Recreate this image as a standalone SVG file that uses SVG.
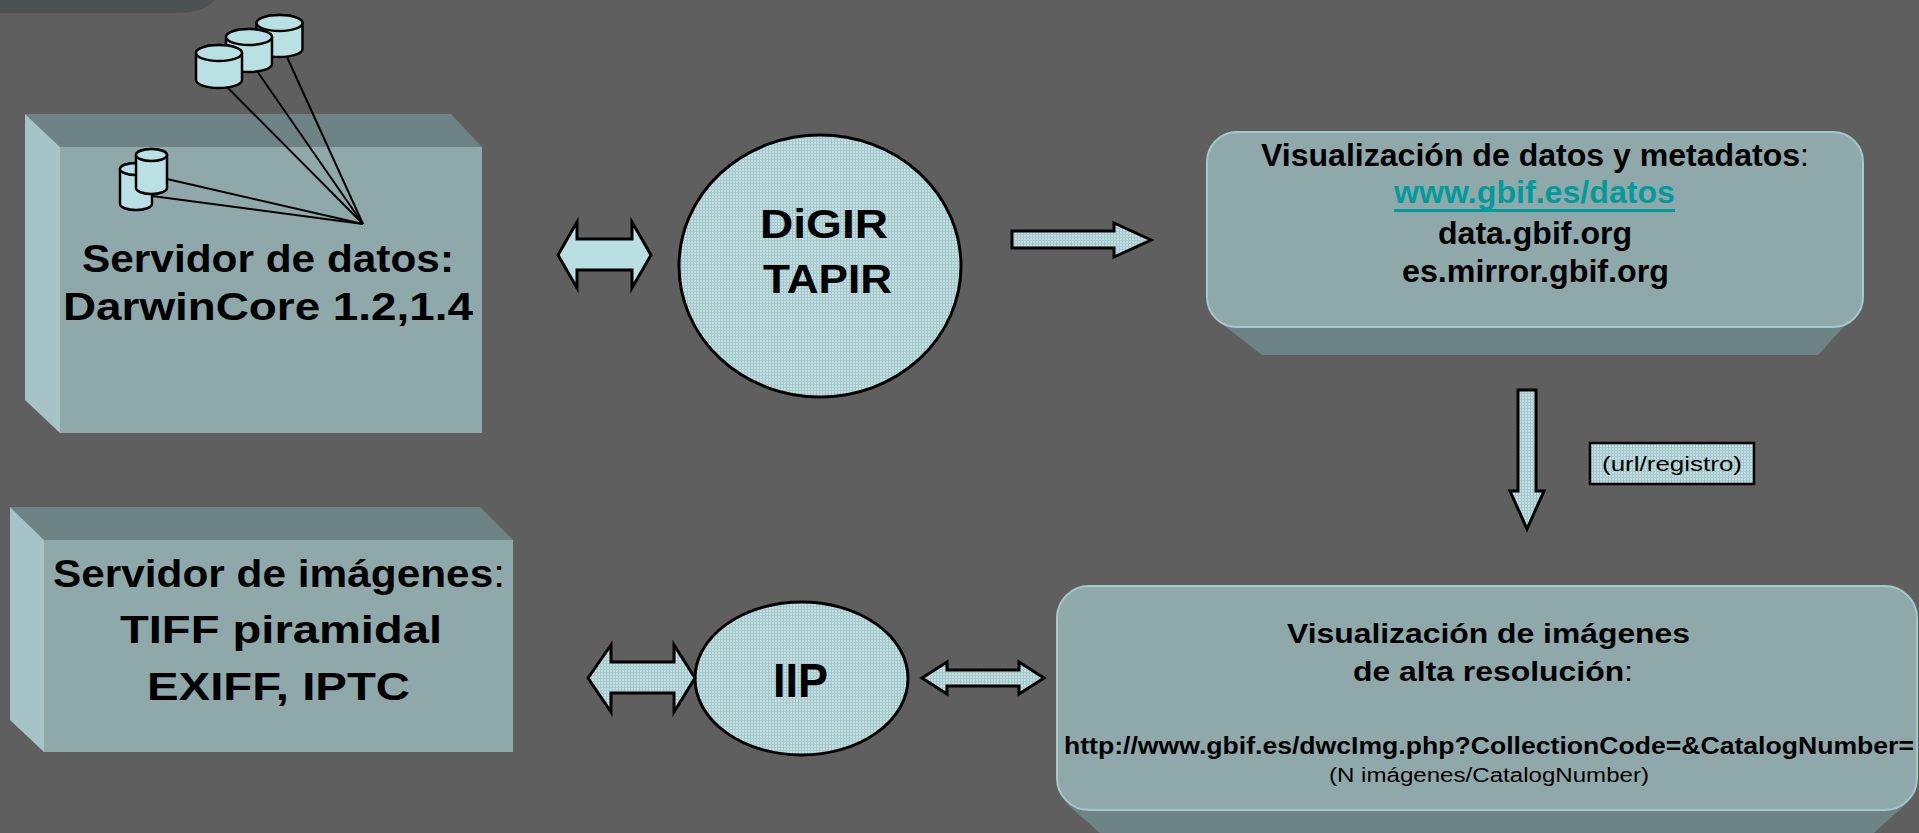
<svg xmlns="http://www.w3.org/2000/svg" width="1919" height="833" viewBox="0 0 1919 833">
<defs>
<pattern id="tex" width="3" height="3" patternUnits="userSpaceOnUse">
<rect width="3" height="3" fill="#bfe1e3"/>
<rect width="1" height="3" fill="#a3c3c6"/>
<rect width="3" height="1" fill="#a9c9cc"/>
</pattern>
<style>
.front{fill:#8fa9ab}
.top{fill:#6e8385}
.side{fill:#a6c4c7}
.rim{fill:#8fa9ab;stroke:#a4c8cb;stroke-width:2}
.bold{font-family:"Liberation Sans",Arial,sans-serif;font-weight:bold;fill:#000}
.reg{font-family:"Liberation Sans",Arial,sans-serif;font-weight:normal;fill:#000}
.arrow{fill:url(#tex);stroke:#000;stroke-width:3;stroke-linejoin:miter}
.cyl{fill:#b9e0e3;stroke:#000;stroke-width:2.5}
.ln{stroke:#000;stroke-width:2;fill:none}
.oval{fill:url(#tex);stroke:#000;stroke-width:3}
</style>
</defs>
<rect width="1919" height="833" fill="#5f5f5f"/>
<path d="M0,0 H215 Q205,12 180,13 H0 Z" fill="#4c5153"/>

<g id="servidor-datos">
<polygon class="top" points="25,114 451,114 482,147 60,147"/>
<polygon class="side" points="25,114 60,147 60,433 25,400"/>
<rect class="front" x="60" y="147" width="422" height="286"/>
<text class="bold" x="82" y="272" font-size="38" textLength="372" lengthAdjust="spacingAndGlyphs">Servidor de datos:</text>
<text class="bold" x="63" y="320" font-size="38" textLength="410" lengthAdjust="spacingAndGlyphs">DarwinCore 1.2,1.4</text>
</g>

<g id="bases-datos">
<path class="cyl" d="M256.5,23 A23,8 0 0 1 302.5,23 V49 A23,8 0 0 1 256.5,49 Z"/>
<ellipse class="cyl" cx="279.5" cy="23" rx="23" ry="8"/>
<path class="cyl" d="M226,37 A23,8 0 0 1 272,37 V64 A23,8 0 0 1 226,64 Z"/>
<ellipse class="cyl" cx="249" cy="37" rx="23" ry="8"/>
<path class="cyl" d="M196,53 A23,8 0 0 1 242,53 V80 A23,8 0 0 1 196,80 Z"/>
<ellipse class="cyl" cx="219" cy="53" rx="23" ry="8"/>
<path class="cyl" d="M120,169 A16,6 0 0 1 152,169 V204 A16,6 0 0 1 120,204 Z"/>
<ellipse class="cyl" cx="136" cy="169" rx="16" ry="6"/>
<path class="cyl" d="M136,155 A15.5,6 0 0 1 167,155 V188 A15.5,6 0 0 1 136,188 Z"/>
<ellipse class="cyl" cx="151.5" cy="155" rx="15.5" ry="6"/>
</g>

<g id="servidor-imagenes">
<polygon class="top" points="10,507 480,507 513,540 44,540"/>
<polygon class="side" points="10,507 44,540 44,752 10,720"/>
<rect class="front" x="44" y="540" width="469" height="212"/>
<text class="bold" x="53" y="587" font-size="38" textLength="452" lengthAdjust="spacingAndGlyphs">Servidor de imágenes<tspan class="reg">:</tspan></text>
<text class="bold" x="120" y="643" font-size="39" textLength="322" lengthAdjust="spacingAndGlyphs">TIFF piramidal</text>
<text class="bold" x="147" y="700" font-size="39" textLength="263" lengthAdjust="spacingAndGlyphs">EXIFF, IPTC</text>
</g>

<g id="digir-tapir">
<ellipse class="oval" cx="820" cy="266" rx="141" ry="131"/>
<text class="bold" x="760" y="238" font-size="40" textLength="128" lengthAdjust="spacingAndGlyphs">DiGIR</text>
<text class="bold" x="763" y="293" font-size="40" textLength="129" lengthAdjust="spacingAndGlyphs">TAPIR</text>
</g>

<g id="iip">
<ellipse class="oval" cx="801.5" cy="678.5" rx="106.5" ry="76.5"/>
<text class="bold" x="773" y="697" font-size="48" textLength="55" lengthAdjust="spacingAndGlyphs">IIP</text>
</g>

<g id="visualizacion-datos">
<path class="top" d="M1217,320 H1850 L1818,355 H1262 Z"/>
<rect class="rim" x="1207" y="132" width="656" height="195" rx="30" ry="30"/>
<text class="bold" x="1261" y="166" font-size="31" textLength="548" lengthAdjust="spacingAndGlyphs">Visualización de datos y metadatos<tspan class="reg">:</tspan></text>
<text class="bold" x="1394" y="203" font-size="31" textLength="281" lengthAdjust="spacingAndGlyphs" fill="#009c9c" style="fill:#009c9c">www.gbif.es/datos</text>
<rect x="1394" y="209" width="281" height="3" fill="#009c9c"/>
<text class="bold" x="1438" y="244" font-size="31" textLength="194" lengthAdjust="spacingAndGlyphs">data.gbif.org</text>
<text class="bold" x="1402" y="282" font-size="31" textLength="267" lengthAdjust="spacingAndGlyphs">es.mirror.gbif.org</text>
</g>

<g id="url-registro">
<rect x="1590" y="443" width="164" height="41" fill="url(#tex)" stroke="#000" stroke-width="2.5"/>
<text class="reg" x="1672" y="471" font-size="21" text-anchor="middle" textLength="140" lengthAdjust="spacingAndGlyphs">(url/registro)</text>
</g>

<g id="visualizacion-imagenes">
<path class="top" d="M1067,804 H1906 L1866,840 H1108 Z"/>
<rect class="rim" x="1057" y="586" width="860" height="224" rx="32" ry="32"/>
<text class="bold" x="1287" y="643" font-size="27" textLength="403" lengthAdjust="spacingAndGlyphs">Visualización de imágenes</text>
<text class="bold" x="1353" y="681" font-size="27" textLength="280" lengthAdjust="spacingAndGlyphs">de alta resolución<tspan class="reg">:</tspan></text>
<text class="bold" x="1064" y="754" font-size="23" textLength="850" lengthAdjust="spacingAndGlyphs">http://www.gbif.es/dwcImg.php?CollectionCode=&amp;CatalogNumber=</text>
<text class="reg" x="1329" y="782" font-size="20" textLength="320" lengthAdjust="spacingAndGlyphs">(N imágenes/CatalogNumber)</text>
</g>

<g id="connectors">
<line class="ln" x1="227" y1="87" x2="363" y2="224"/>
<line class="ln" x1="257" y1="71" x2="363" y2="224"/>
<line class="ln" x1="287" y1="57" x2="363" y2="224"/>
<line class="ln" x1="167" y1="179" x2="363" y2="224"/>
<line class="ln" x1="152" y1="196" x2="363" y2="224"/>
<polygon points="558,255 577,222 577,239 632,239 632,222 651,255 632,288 632,270 577,270 577,288" fill="#b9dfe2" stroke="#000" stroke-width="3"/>
<polygon class="arrow" points="1012,231 1114,231 1114,223 1151,240 1114,257 1114,248 1012,248"/>
<polygon class="arrow" points="1518,390 1536,390 1536,491 1544,491 1527,529 1510,491 1518,491"/>
<polygon class="arrow" points="588,678 611,645 611,662 674,662 674,645 695,678 674,712 674,693 611,693 611,712"/>
<polygon class="arrow" points="922,678 947,662 947,670 1019,670 1019,662 1044,678 1019,694 1019,686 947,686 947,694"/>
</g>
</svg>
